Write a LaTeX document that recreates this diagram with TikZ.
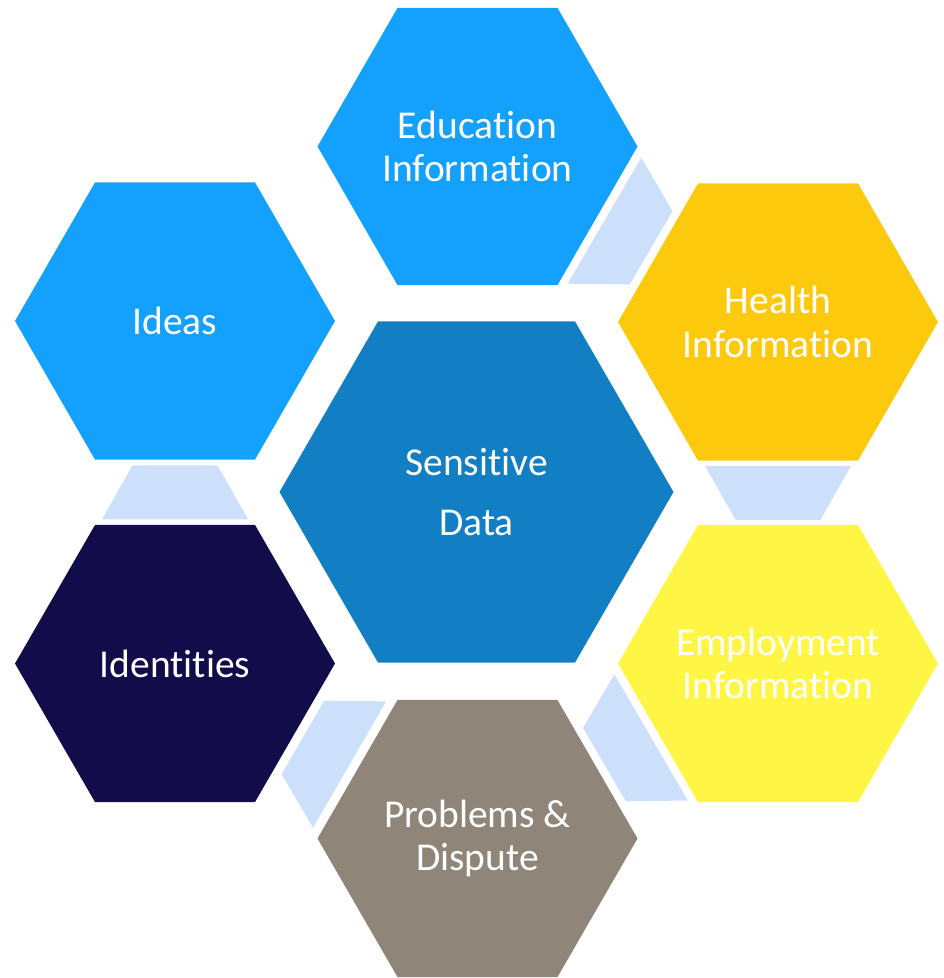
\documentclass[tikz,border=0pt]{standalone}
\usepackage{fontspec}
\setmainfont[Ligatures={NoCommon}]{Carlito}
\usetikzlibrary{shapes.geometric,calc}
\definecolor{cEdu}{HTML}{14A0FD}
\definecolor{cCenter}{HTML}{127FC4}
\definecolor{cHealth}{HTML}{FCC90C}
\definecolor{cEmploy}{HTML}{FFF545}
\definecolor{cProb}{HTML}{8F8578}
\definecolor{cIdent}{HTML}{120C4A}
\definecolor{cConn}{HTML}{CCE0FC}
\newcommand{\tI}{t\kern0pt i}
\tikzset{
  hexbox/.style={regular polygon, regular polygon sides=6, inner sep=0pt,
    minimum size=320pt, draw=none},
  bighex/.style={hexbox, minimum size=394pt},
  hextext/.style={text=white, align=center, inner sep=0pt,
    font=\fontsize{39.5}{43.5}\selectfont},
  bigtext/.style={hextext, font=\fontsize{39.5}{60}\selectfont},
  conn/.style={fill=cConn, draw=none}
}
\newcommand{\linkpiece}[2]{%
  \coordinate (lpM) at ($(#1)!0.5!(#2)$);
  \coordinate (lpA) at ($(lpM)!27pt!(#1)$);
  \coordinate (lpB) at ($(lpM)!27pt!(#2)$);
  \fill[conn] ($(lpA)!73pt!90:(#2)$) -- ($(lpA)!73pt!-90:(#2)$)
     -- ($(lpB)!42.5pt!90:(#1)$) -- ($(lpB)!42.5pt!-90:(#1)$) -- cycle;
}
\begin{document}
\begin{tikzpicture}[x=1pt,y=-1pt]
\useasboundingbox (0,0) rectangle (944,978);
\node[bighex, fill=cCenter] (sens) at (476.5,492) {};
\node[hexbox, fill=cEdu] (edu) at (477.5,146.5) {};
\node[hexbox, fill=cHealth] (health) at (778,322) {};
\node[hexbox, fill=cEmploy] (employ) at (778,663.5) {};
\node[hexbox, fill=cProb] (prob) at (477.5,838.5) {};
\node[hexbox, fill=cIdent] (ident) at (175,663.5) {};
\node[hexbox, fill=cEdu] (ideas) at (175,321) {};
\node[bigtext] (sens-t) at (sens) {Sensi\tI ve\\Data};
\node[hextext] (edu-t) at (edu) {Education\\Informa\tI on};
\node[hextext] (health-t) at (health) {Health\\Informa\tI on};
\node[hextext] (employ-t) at (employ) {Employment\\Informa\tI on};
\node[hextext] (prob-t) at (prob) {Problems \&\\Dispute};
\node[hextext] (ident-t) at (ident) {Iden\tI\tI es};
\node[hextext] (ideas-t) at (ideas) {Ideas};
\linkpiece{edu}{health}
\linkpiece{health}{employ}
\linkpiece{employ}{prob}
\linkpiece{prob}{ident}
\linkpiece{ident}{ideas}
\end{tikzpicture}
\end{document}
